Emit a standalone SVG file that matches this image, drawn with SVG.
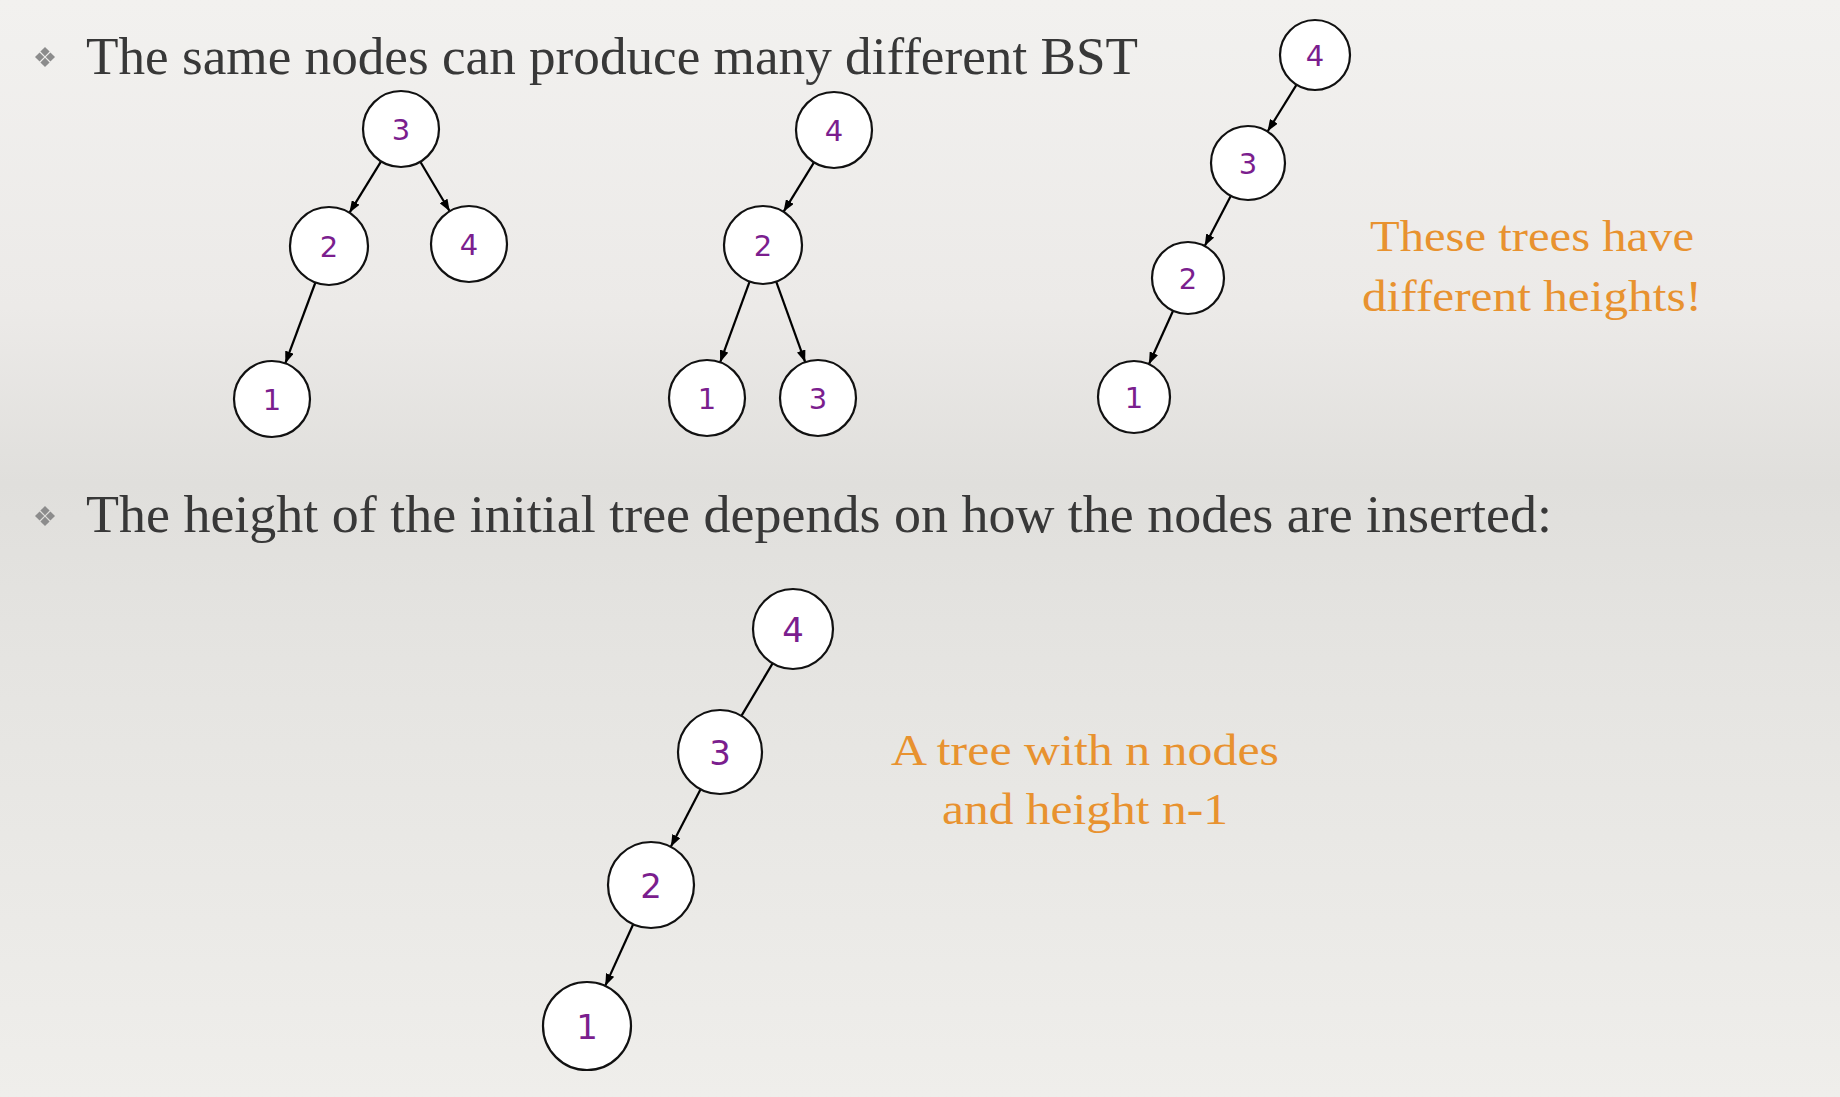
<svg xmlns="http://www.w3.org/2000/svg" width="1840" height="1097" viewBox="0 0 1840 1097">
  <defs>
    <linearGradient id="paper" x1="0" y1="0" x2="0" y2="1">
      <stop offset="0" stop-color="#f2f1ef"/>
      <stop offset="0.28" stop-color="#eceae8"/>
      <stop offset="0.44" stop-color="#e0dfdc"/>
      <stop offset="0.6" stop-color="#e5e4e1"/>
      <stop offset="1" stop-color="#efeeeb"/>
    </linearGradient>
    <marker id="arrow" viewBox="0 0 12 9" refX="12" refY="4.5" markerWidth="12" markerHeight="9" markerUnits="userSpaceOnUse" orient="auto">
      <path d="M0,0 L12,4.5 L0,9 z" fill="#000"/>
    </marker>
    <!-- one petal of the bullet glyph -->
    <path id="petal" d="M0,-4.6 L4.6,0 L0,4.6 L-4.6,0 z" fill="#8c8c8c"/>
    <g id="bullet">
      <use href="#petal" x="0" y="-5.4"/>
      <use href="#petal" x="5.4" y="0"/>
      <use href="#petal" x="0" y="5.4"/>
      <use href="#petal" x="-5.4" y="0"/>
    </g>
  </defs>
  <style>
    .node circle { fill: #ffffff; stroke: #111111; stroke-width: 2.2; }
    .node text { font-family: "DejaVu Sans", Verdana, sans-serif; fill: #7b1e8e; text-anchor: middle; dominant-baseline: central; }
    .small text { font-size: 29px; }
    .big text { font-size: 34px; }
    .edge { stroke: #000000; stroke-width: 2.2; fill: none; }
    .arrowed { marker-end: url(#arrow); }
    .heading { font-family: "Liberation Serif", "Times New Roman", serif; font-size: 52px; fill: #383838; }
    .note { font-family: "Liberation Serif", "Times New Roman", serif; font-size: 45px; fill: #e8922f; text-anchor: middle; }
  </style>

  <rect x="0" y="0" width="1840" height="1097" fill="url(#paper)"/>

  <!-- headings -->
  <g id="heading-1">
    <use href="#bullet" x="45" y="57"/>
    <text class="heading" x="86" y="74" textLength="1052" lengthAdjust="spacingAndGlyphs">The same nodes can produce many different BST</text>
  </g>
  <g id="heading-2">
    <use href="#bullet" x="45" y="516"/>
    <text class="heading" x="86" y="532" textLength="1466" lengthAdjust="spacingAndGlyphs">The height of the initial tree depends on how the nodes are inserted:</text>
  </g>

  <!-- annotations -->
  <g id="note-heights">
    <text class="note" x="1532" y="251" textLength="324" lengthAdjust="spacingAndGlyphs">These trees have</text>
    <text class="note" x="1532" y="311" textLength="340" lengthAdjust="spacingAndGlyphs">different heights!</text>
  </g>
  <g id="note-degenerate">
    <text class="note" x="1085" y="765" textLength="388" lengthAdjust="spacingAndGlyphs">A tree with n nodes</text>
    <text class="note" x="1085" y="824" textLength="286" lengthAdjust="spacingAndGlyphs">and height n-1</text>
  </g>

  <!-- connectors -->
  <g id="connectors">
    <!-- tree A: 3 -> (2, 4), 2 -> 1 -->
    <line class="edge arrowed" x1="381.1" y1="161.4" x2="349.4" y2="212.8"/>
    <line class="edge arrowed" x1="420.3" y1="161.7" x2="449.7" y2="211.3"/>
    <line class="edge arrowed" x1="315.4" y1="282.5" x2="285.3" y2="363.4"/>
    <!-- tree B: 4 -> 2, 2 -> (1, 3) -->
    <line class="edge arrowed" x1="814.0" y1="162.3" x2="783.5" y2="211.8"/>
    <line class="edge arrowed" x1="749.6" y1="281.6" x2="720.1" y2="362.3"/>
    <line class="edge arrowed" x1="776.2" y1="281.7" x2="805.2" y2="362.2"/>
    <!-- tree C: 4 -> 3 -> 2 -> 1 -->
    <line class="edge arrowed" x1="1296.6" y1="84.7" x2="1267.5" y2="131.5"/>
    <line class="edge arrowed" x1="1230.9" y1="195.8" x2="1204.7" y2="246.1"/>
    <line class="edge arrowed" x1="1173.1" y1="310.8" x2="1148.9" y2="364.2"/>
    <!-- tree D: 4 -> 3 -> 2 -> 1 -->
    <line class="edge" x1="772.6" y1="663.4" x2="741.4" y2="715.9"/>
    <line class="edge arrowed" x1="700.6" y1="789.3" x2="670.8" y2="846.8"/>
    <line class="edge arrowed" x1="633.2" y1="924.2" x2="605.2" y2="985.9"/>
  </g>

  <!-- tree A -->
  <g id="a3" class="node small"><circle cx="401" cy="129" r="38"/><text x="401" y="130">3</text></g>
  <g id="a2" class="node small"><circle cx="329" cy="246" r="39"/><text x="329" y="247">2</text></g>
  <g id="a4" class="node small"><circle cx="469" cy="244" r="38"/><text x="469" y="245">4</text></g>
  <g id="a1" class="node small"><circle cx="272" cy="399" r="38"/><text x="272" y="400">1</text></g>

  <!-- tree B -->
  <g id="b4" class="node small"><circle cx="834" cy="130" r="38"/><text x="834" y="131">4</text></g>
  <g id="b2" class="node small"><circle cx="763" cy="245" r="39"/><text x="763" y="246">2</text></g>
  <g id="b1" class="node small"><circle cx="707" cy="398" r="38"/><text x="707" y="399">1</text></g>
  <g id="b3" class="node small"><circle cx="818" cy="398" r="38"/><text x="818" y="399">3</text></g>

  <!-- tree C -->
  <g id="c4" class="node small"><circle cx="1315" cy="55" r="35"/><text x="1315" y="56">4</text></g>
  <g id="c3" class="node small"><circle cx="1248" cy="163" r="37"/><text x="1248" y="164">3</text></g>
  <g id="c2" class="node small"><circle cx="1188" cy="278" r="36"/><text x="1188" y="279">2</text></g>
  <g id="c1" class="node small"><circle cx="1134" cy="397" r="36"/><text x="1134" y="398">1</text></g>

  <!-- tree D -->
  <g id="d4" class="node big"><circle cx="793" cy="629" r="40"/><text x="793" y="630">4</text></g>
  <g id="d3" class="node big"><circle cx="720" cy="752" r="42"/><text x="720" y="753">3</text></g>
  <g id="d2" class="node big"><circle cx="651" cy="885" r="43"/><text x="651" y="886">2</text></g>
  <g id="d1" class="node big"><circle cx="587" cy="1026" r="44"/><text x="587" y="1027">1</text></g>
</svg>
